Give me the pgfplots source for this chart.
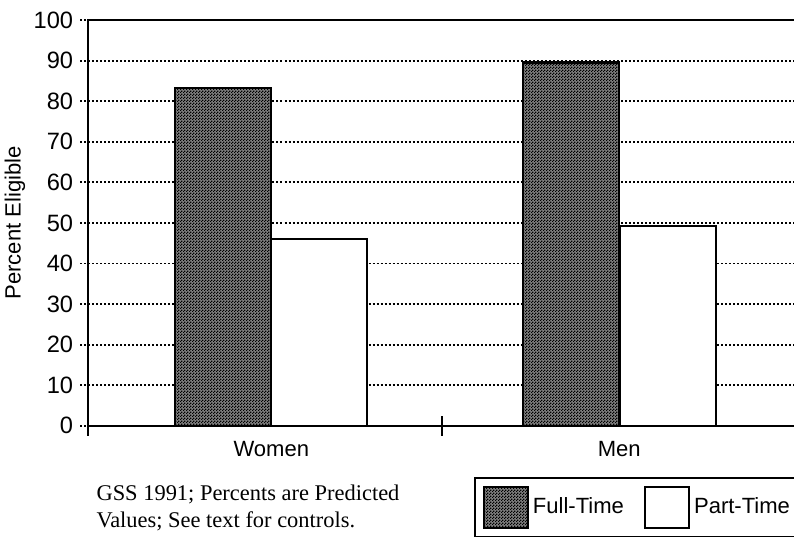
\documentclass[border=0pt]{standalone}
\usepackage{fontspec}
\setmainfont{Liberation Sans}
\newfontfamily\timesf{Liberation Serif}
\usepackage{pgfplots}
\pgfplotsset{compat=1.18}
\usetikzlibrary{patterns}
\pgfdeclarepatternformonly{mychecker}{\pgfpointorigin}{\pgfqpoint{1.5pt}{1.5pt}}{\pgfqpoint{1.5pt}{1.5pt}}{%
  \pgfpathrectangle{\pgfpointorigin}{\pgfqpoint{0.75pt}{0.75pt}}%
  \pgfpathrectangle{\pgfqpoint{0.75pt}{0.75pt}}{\pgfqpoint{0.75pt}{0.75pt}}%
  \pgfusepath{fill}}
\tikzset{checkfill/.style={fill=black!50, postaction={pattern=mychecker, pattern color=black}}}
\begin{document}
\begin{tikzpicture}
\clip (-44pt,-55.5pt) rectangle (352.3pt,212.5pt);
\begin{axis}[
  scale only axis,
  width=353pt, height=202.5pt,
  xmin=-0.5, xmax=1.5,
  ymin=0, ymax=100,
  clip=false,
  font=\fontsize{11}{13}\selectfont,
  /pgf/number format/assume math mode=true,
  axis line style={line width=1pt},
  ytick={0,10,...,100},
  yticklabel style={font=\fontsize{11.8}{13}\selectfont},
  ymajorgrids,
  grid style={dash pattern=on 1pt off 1pt, black, line width=0.9pt},
  ytick style={dash pattern=on 1pt off 1pt, black, line width=0.9pt},
  major tick length=4pt,
  tick align=outside,
  xtick pos=bottom,
  xtick={0.018,1.002},
  xticklabels={Women,Men},
  xtick style={draw=none},
  extra x ticks={-0.5,0.5},
  extra x tick labels={},
  extra x tick style={major tick length=10pt, tick align=center, grid=none,
     xtick style={draw=black, solid, line width=1pt}},
  ylabel={Percent Eligible},
  ylabel style={at={(axis description cs:-0.1034,0.5)}, anchor=center},
  ybar, bar width=48pt, bar shift=0pt,
  legend columns=2,
  legend style={at={(axis description cs:0.5453,-0.126)}, anchor=north west,
     draw=black, line width=1pt, inner xsep=4pt, inner ysep=4pt,
     font=\fontsize{11}{13}\selectfont,
     /tikz/every even column/.append style={column sep=8pt}},
  legend image code/.code={\draw[#1, line width=1pt] (0pt,-10.25pt) rectangle (22pt,10.25pt);},
]
\addplot[draw=black, line width=1.2pt, checkfill]
  coordinates {(-0.119,83.3) (0.865,89.5)};
\addlegendentry{Full-Time}
\addplot[draw=black, line width=1.2pt, fill=white]
  coordinates {(0.153,46.1) (1.139,49.2)};
\addlegendentry{Part-Time}
\node[anchor=base west, inner sep=0pt, font=\timesf\fontsize{11.2}{13.5}\selectfont]
  at (axis description cs:0.0113,-0.1852) {GSS 1991; Percents are Predicted};
\node[anchor=base west, inner sep=0pt, font=\timesf\fontsize{11.2}{13.5}\selectfont]
  at (axis description cs:0.0113,-0.2519) {Values; See text for controls.};
\end{axis}
\end{tikzpicture}
\end{document}
